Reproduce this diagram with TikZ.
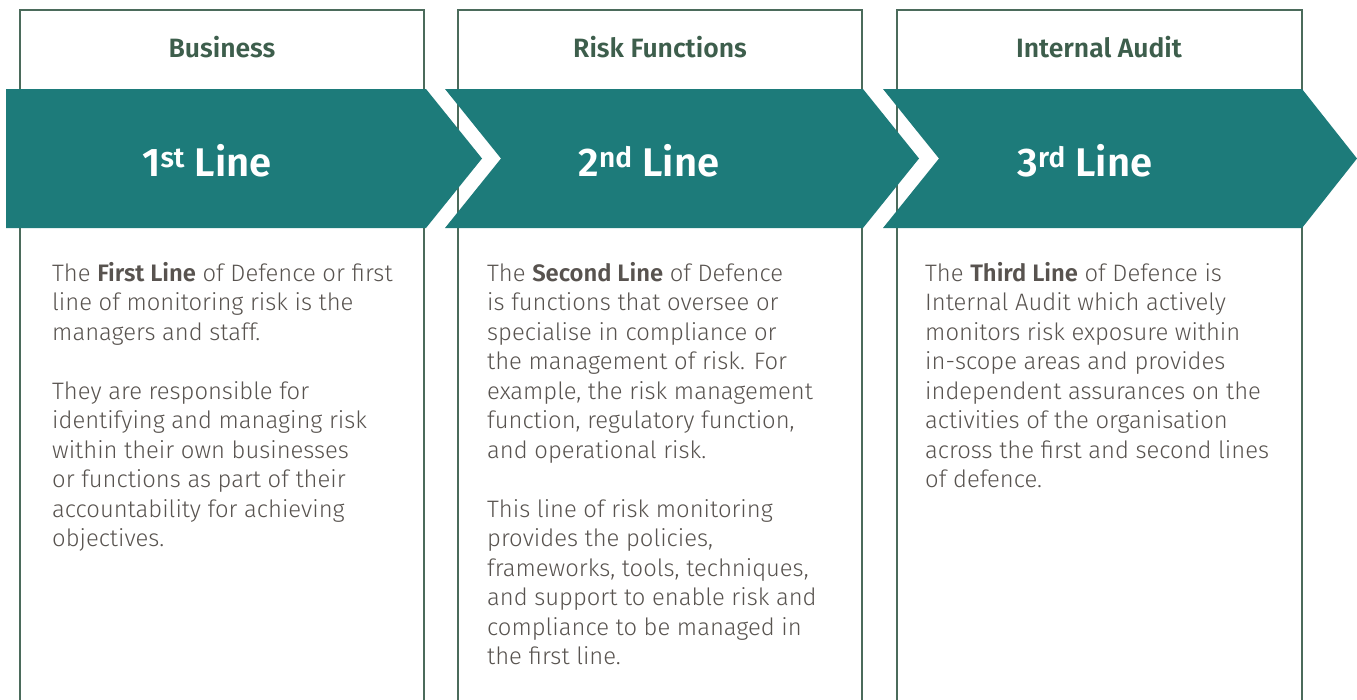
\documentclass[tikz,border=0pt]{standalone}
\usepackage{fontspec}
\setmainfont{Fira Sans}[UprightFont=* Light, BoldFont=* SemiBold]
\definecolor{teal}{HTML}{1D7B7A}
\definecolor{frame}{HTML}{4B6B5B}
\definecolor{head}{HTML}{3D5E4C}
\definecolor{body}{HTML}{58534F}
\begin{document}
\begin{tikzpicture}[x=1pt,y=-1pt,
  column/.style={draw=frame,line width=2pt},
  chevron/.style={fill=teal,draw=none},
  header/.style={text=head,font=\fontsize{26.5}{30}\selectfont\bfseries},
  title/.style={text=white,font=\fontsize{40}{44}\selectfont\bfseries},
  bodytext/.style={anchor=north west,text=body,align=left,inner sep=0pt,
    font=\fontsize{23.8}{29.5}\selectfont}]
\useasboundingbox (0,0) rectangle (1357,699);
\fill[white] (0,0) rectangle (1357,699);

% column frames, open at the bottom
\draw[column] (20,705) -- (20,10) -- (424,10) -- (424,705);
\draw[column] (458,705) -- (458,10) -- (862,10) -- (862,705);
\draw[column] (897,705) -- (897,10) -- (1302,10) -- (1302,705);

% chevron band
\fill[chevron] (6,89) -- (426,89) -- (482,158.5) -- (426,228) -- (6,228) -- cycle;
\fill[chevron] (445,89) -- (863,89) -- (919,158.5) -- (863,228) -- (445,228) -- (501,158.5) -- cycle;
\fill[chevron] (883,89) -- (1302,89) -- (1357,158.5) -- (1302,228) -- (883,228) -- (939,158.5) -- cycle;

% headers
\node[header] (h1) at (222,47) {Business};
\node[header] (h2) at (660,47) {Risk Functions};
\node[header] (h3) at (1099,47) {Internal Audit};

% line titles
\node[title] (t1) at (207,161) {1\textsuperscript{st} Line};
\node[title] (t2) at (649,161) {2\textsuperscript{nd} Line};
\node[title] (t3) at (1085,161) {3\textsuperscript{rd} Line};

% descriptions
\node[bodytext] (b1) at (52,262) {The \textbf{First Line} of Defence or first\\
line of monitoring risk is the\\
managers and staff.\\[29.5pt]
They are responsible for\\
identifying and managing risk\\
within their own businesses\\
or functions as part of their\\
accountability for achieving\\
objectives.};

\node[bodytext] (b2) at (487,262) {The \textbf{Second Line} of Defence\\
is functions that oversee or\\
specialise in compliance or\\
the management of risk. For\\
example, the risk management\\
function, regulatory function,\\
and operational risk.\\[29.5pt]
This line of risk monitoring\\
provides the policies,\\
frameworks, tools, techniques,\\
and support to enable risk and\\
compliance to be managed in\\
the first line.};

\node[bodytext] (b3) at (925,262) {The \textbf{Third Line} of Defence is\\
Internal Audit which actively\\
monitors risk exposure within\\
in-scope areas and provides\\
independent assurances on the\\
activities of the organisation\\
across the first and second lines\\
of defence.};
\end{tikzpicture}
\end{document}
